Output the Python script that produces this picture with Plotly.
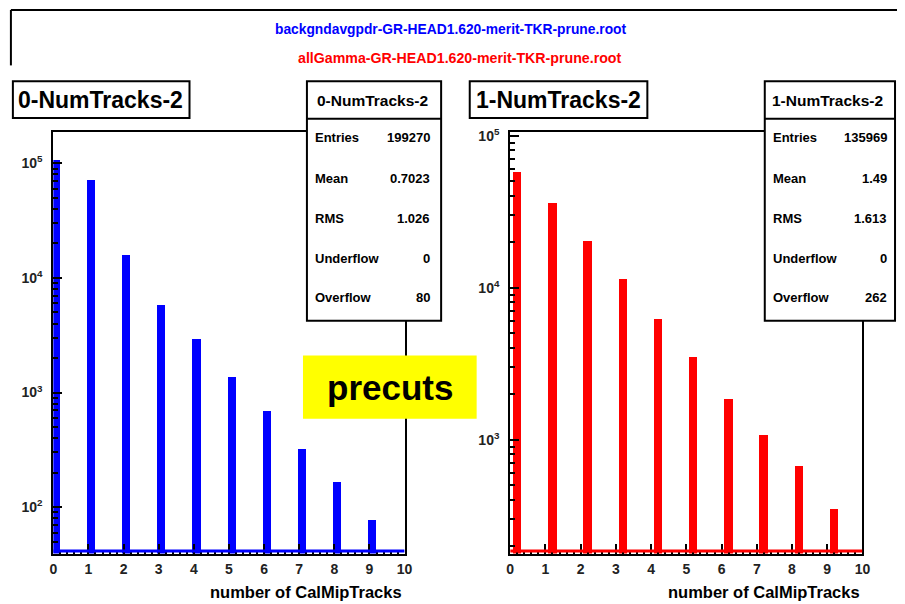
import plotly.graph_objects as go

# ---------------- data ----------------
bins = [0, 1, 2, 3, 4, 5, 6, 7, 8, 9]
counts_bkg = [108000, 72000, 15800, 5850, 2950, 1380, 697, 326, 165, 77]
counts_gam = [57800, 36300, 20500, 11400, 6290, 3520, 1850, 1080, 677, 350]

file_bkg = "backgndavgpdr-GR-HEAD1.620-merit-TKR-prune.root"
file_gam = "allGamma-GR-HEAD1.620-merit-TKR-prune.root"
title_left = "0-NumTracks-2"
title_right = "1-NumTracks-2"
stat_labels = ["Entries", "Mean", "RMS", "Underflow", "Overflow"]
stats_left = ["199270", "0.7023", "1.026", "0", "80"]
stats_right = ["135969", "1.49", "1.613", "0", "262"]
x_title = "number of CalMipTracks"
x_ticks = list(range(0, 11))
y_tick_vals = [1e2, 1e3, 1e4, 1e5]
y_tick_text = ["10<sup>2</sup>", "10<sup>3</sup>", "10<sup>4</sup>", "10<sup>5</sup>"]
minor_vals = [k * 10 ** d for d in range(1, 6) for k in range(2, 10)]

W, H = 905, 604
FONT = "Liberation Sans, Arial, Helvetica, sans-serif"


def px(x):
    return x / W


def py(y):
    return 1 - y / H


fig = go.Figure()

fig.add_trace(go.Bar(x=bins, y=counts_bkg, width=0.23, offset=-0.03,
                     marker=dict(color="#0000ff", line=dict(width=0)),
                     xaxis="x", yaxis="y", showlegend=False))
fig.add_trace(go.Bar(x=bins, y=counts_gam, width=0.24, offset=0.08,
                     marker=dict(color="#ff0000", line=dict(width=0)),
                     xaxis="x2", yaxis="y2", showlegend=False))

tickfont = dict(family=FONT, size=14, color="#222", weight="bold")


def xaxis(dom):
    return dict(domain=dom, range=[0, 10], tickvals=x_ticks, ticks="inside", ticklen=10,
                tickwidth=2, tickcolor="black", showline=True, linewidth=2, linecolor="black",
                mirror=True, showgrid=False, zeroline=False, tickfont=tickfont,
                ticklabelstandoff=2,
                minor=dict(ticks="inside", ticklen=4, tickwidth=1.5, tickcolor="black",
                           dtick=0.2, tick0=0, showgrid=False))


def yaxis(anchor, rng):
    return dict(type="log", domain=[py(553), py(127)], range=rng, anchor=anchor,
                tickmode="array", tickvals=y_tick_vals, ticktext=y_tick_text,
                ticks="inside", ticklen=9, tickwidth=2, tickcolor="black",
                showline=True, linewidth=2, linecolor="black", mirror=True,
                showgrid=False, zeroline=False, tickfont=tickfont, ticklabelstandoff=6,
                minor=dict(ticks="inside", ticklen=5, tickwidth=1.5, tickcolor="black",
                           tickmode="array", tickvals=minor_vals, showgrid=False))


shapes = []
annotations = []

# baselines of empty bins in histogram colour
shapes.append(dict(type="line", xref="x", yref="y domain", x0=0, x1=10, y0=0.006, y1=0.006,
                   line=dict(color="#0000ff", width=3), layer="above"))
shapes.append(dict(type="line", xref="x2", yref="y2 domain", x0=0, x1=10, y0=0.006, y1=0.006,
                   line=dict(color="#ff0000", width=3), layer="above"))


def rect(x0, y0, x1, y1, fill="white", lw=2):
    shapes.append(dict(type="rect", xref="paper", yref="paper",
                       x0=px(x0), x1=px(x1), y0=py(y1), y1=py(y0),
                       line=dict(color="black", width=lw), fillcolor=fill, layer="above"))


def line(x0, y0, x1, y1, lw=2):
    shapes.append(dict(type="line", xref="paper", yref="paper",
                       x0=px(x0), x1=px(x1), y0=py(y0), y1=py(y1),
                       line=dict(color="black", width=lw), layer="above"))


def text(x, y, s, size, color="black", xanchor="center", bold=True):
    annotations.append(dict(xref="paper", yref="paper", x=px(x), y=py(y), text=s,
                            showarrow=False, xanchor=xanchor, yanchor="middle",
                            font=dict(family=FONT, size=size, color=color,
                                      weight="bold" if bold else "normal")))


# top file-name pave (partially visible)
line(7, 4, 905, 4)
line(7, 4, 7, 60)
text(453, 24, file_bkg, 13.8, color="#0000ff")
text(462, 53, file_gam, 14.2, color="#ff0000")

# panel titles
rect(9, 76, 188, 113)
text(98, 95, title_left, 23)
rect(472, 76, 652, 113)
text(562, 95, title_right, 23)

# stats boxes
row_y = [133, 174, 215, 255, 294]
for (bx0, bx1, title, vals, lab_x, val_x) in [
    (307, 443, title_left, stats_left, 313, 434),
    (771, 903, title_right, stats_right, 777, 897),
]:
    rect(bx0, 76, bx1, 318)
    line(bx0, 114, bx1, 114)
    text((bx0 + bx1) / 2 - 2, 95, title, 15.5)
    for lab, val, yy in zip(stat_labels, vals, row_y):
        text(lab_x, yy, lab, 13, xanchor="left")
        text(val_x, yy, val, 13, xanchor="right")

# axis titles
text(405, 592, x_title, 16.5, xanchor="right")
text(870, 592, x_title, 16.5, xanchor="right")

# precuts label
rect(303, 353, 479, 417, fill="#ffff00", lw=0)
text(391, 385, "precuts", 35)

fig.update_layout(
    width=W, height=H, margin=dict(l=0, r=0, t=0, b=0),
    paper_bgcolor="white", plot_bgcolor="white",
    xaxis=xaxis([px(50), px(406)]) | dict(anchor="y"),
    yaxis=yaxis("x", [1.595, 5.276]),
    xaxis2=xaxis([px(513), px(870)]) | dict(anchor="y2"),
    yaxis2=yaxis("x2", [2.251, 5.026]),
    bargap=0, shapes=shapes, annotations=annotations,
)

fig.write_html("out.html")
